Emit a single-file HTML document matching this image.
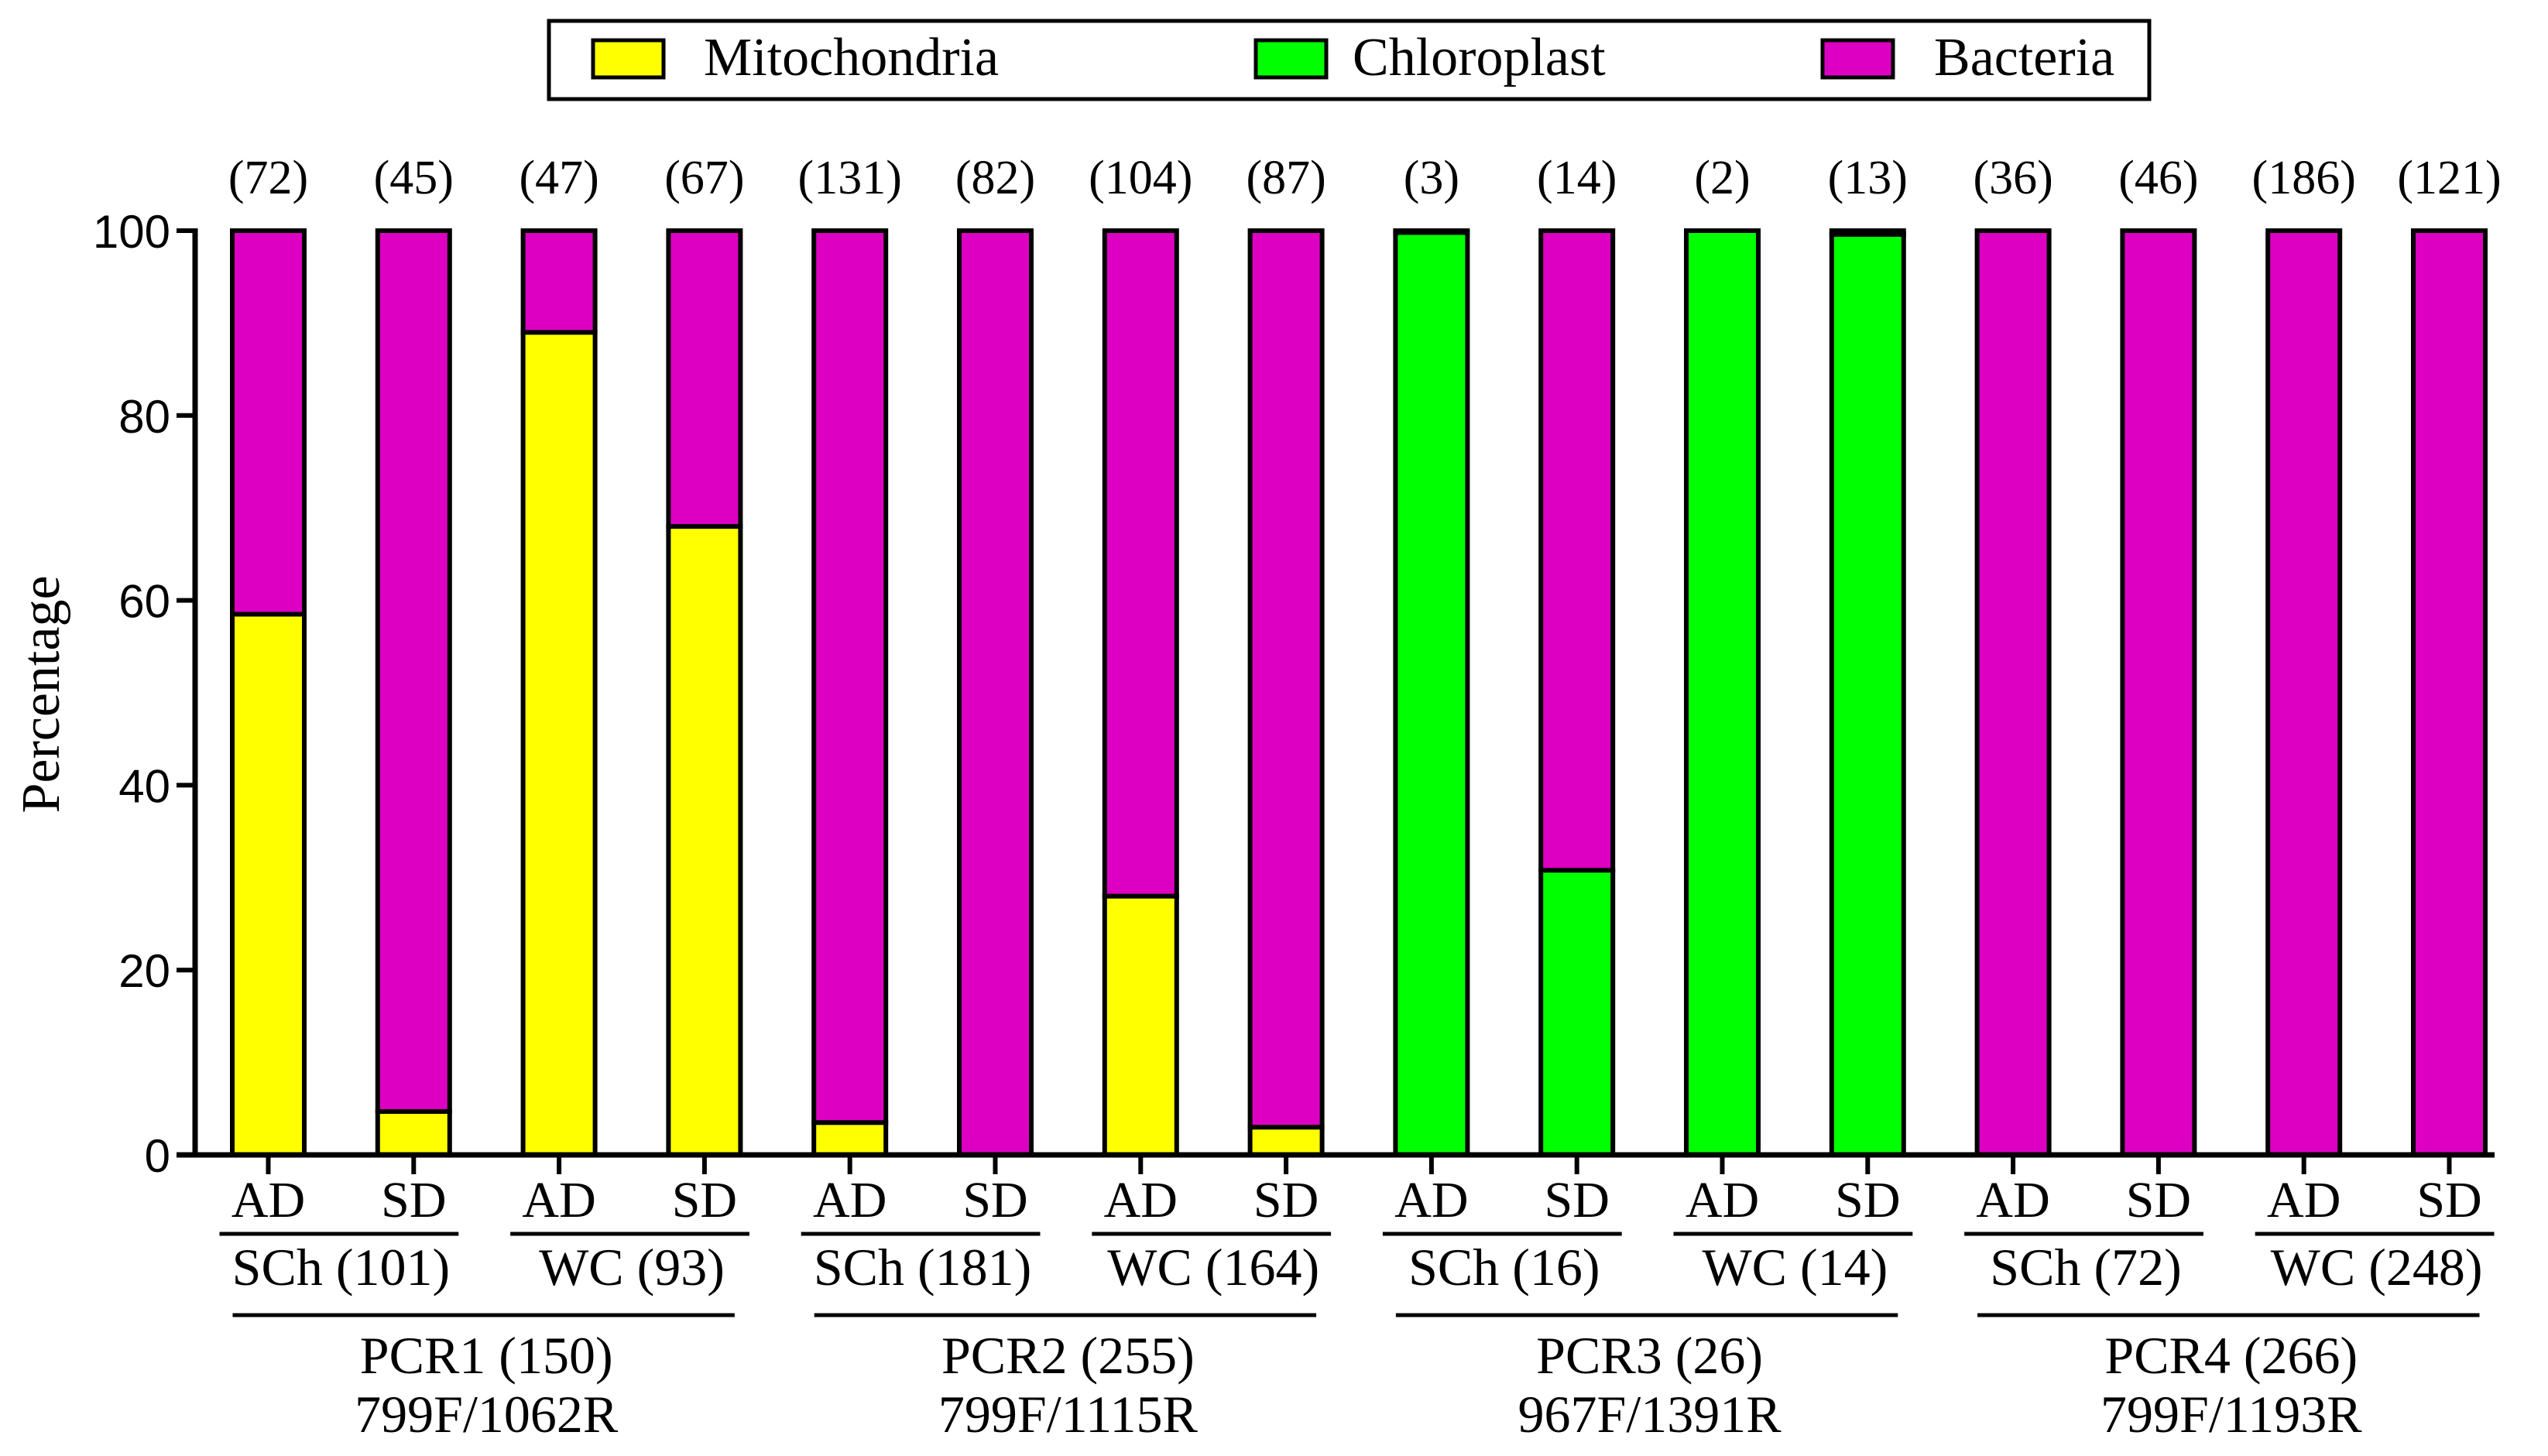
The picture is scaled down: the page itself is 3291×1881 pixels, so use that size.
<!DOCTYPE html>
<html><head><meta charset="utf-8"><style>
html,body{margin:0;padding:0;background:#fff;}
svg{display:block;}
.serif{font-family:"Liberation Serif",serif;}
.sans{font-family:"Liberation Sans",sans-serif;}
</style></head><body>
<svg id="chart" width="3291" height="1881" viewBox="0 0 3291 1881" xmlns="http://www.w3.org/2000/svg">
<g id="legend">
<rect x="709" y="27" width="2067" height="101" fill="#fff" stroke="#000" stroke-width="5"/>
<g><rect x="766" y="52" width="91" height="48" fill="#ffff00" stroke="#000" stroke-width="5"/><text class="serif" x="909" y="97" font-size="70">Mitochondria</text></g>
<g><rect x="1622" y="52" width="91" height="48" fill="#00ff00" stroke="#000" stroke-width="5"/><text class="serif" x="1747" y="97" font-size="70">Chloroplast</text></g>
<g><rect x="2354" y="52" width="91" height="48" fill="#dd00c2" stroke="#000" stroke-width="5"/><text class="serif" x="2498" y="97" font-size="70">Bacteria</text></g>
</g>
<g id="plot"></g>
<text class="serif" transform="translate(76,897) rotate(-90)" text-anchor="middle" font-size="70">Percentage</text>
</svg>
<script>
const samples = ["AD","SD","AD","SD","AD","SD","AD","SD","AD","SD","AD","SD","AD","SD","AD","SD"];
const counts = ["(72)","(45)","(47)","(67)","(131)","(82)","(104)","(87)","(3)","(14)","(2)","(13)","(36)","(46)","(186)","(121)"];
const mito = [58.5,4.7,89,68,3.5,0,28,3,0,0,0,0,0,0,0,0];
const chloro = [0,0,0,0,0,0,0,0,99.8,30.8,100,99.6,0,0,0,0];
const bacteria = [41.5,95.3,11,32,96.5,100,72,97,0.2,69.2,0,0.4,100,100,100,100];
const subgroups = ["SCh (101)","WC (93)","SCh (181)","WC (164)","SCh (16)","WC (14)","SCh (72)","WC (248)"];
const groups = ["PCR1 (150)","PCR2 (255)","PCR3 (26)","PCR4 (266)"];
const primers = ["799F/1062R","799F/1115R","967F/1391R","799F/1193R"];
const yTicks = [0,20,40,60,80,100];

const NS="http://www.w3.org/2000/svg";
const g=document.getElementById('plot');
const X0=346.5, DX=187.8, BW=93, Y0=1492, Y100=298;
const xs=i=>X0+i*DX;
const ys=v=>Y0-(v/100)*(Y0-Y100);
function mk(tag,attrs,parent){const e=document.createElementNS(NS,tag);for(const k in attrs)e.setAttribute(k,attrs[k]);(parent||g).appendChild(e);return e;}

samples.forEach((s,i)=>{
  const bg=mk('g',{});
  
  
  let base=0;
  const segs=[[mito[i],'#ffff00','mitochondria'],[chloro[i],'#00ff00','chloroplast'],[bacteria[i],'#dd00c2','bacteria']];
  segs.forEach(([v,c,n])=>{
    if(v<=0)return;
    const r=mk('rect',{x:xs(i)-BW/2,y:ys(base+v),width:BW,height:ys(base)-ys(base+v),fill:c,stroke:'#000','stroke-width':6},bg);
    
    
    base+=v;
  });
  const t=mk('text',{x:xs(i),y:250,'text-anchor':'middle','font-size':62,class:'serif'});
  t.textContent=counts[i];
  
  
  const xl=mk('text',{x:xs(i),y:1572,'text-anchor':'middle','font-size':66,class:'serif'});
  xl.textContent=s;
  
  
  const tk=mk('line',{x1:xs(i),x2:xs(i),y1:Y0,y2:1517,stroke:'#000','stroke-width':6});
  
  
});
const ya=mk('line',{x1:252,x2:252,y1:Y100-3,y2:Y0+3,stroke:'#000','stroke-width':7});


const xa=mk('line',{x1:228,x2:3222,y1:Y0,y2:Y0,stroke:'#000','stroke-width':7});


yTicks.forEach(v=>{
  const l=mk('line',{x1:228,x2:252,y1:ys(v),y2:ys(v),stroke:'#000','stroke-width':6});
  
  
  const t=mk('text',{x:220,y:ys(v)+22,'text-anchor':'end','font-size':60,class:'sans'});
  t.textContent=v;
  
  
});
subgroups.forEach((s,k)=>{
  const a=xs(2*k), b=xs(2*k+1);
  const l=mk('line',{x1:a-63,x2:b+58,y1:1594,y2:1594,stroke:'#000','stroke-width':5});
  
  
  const t=mk('text',{x:(a+b)/2,y:1660,'text-anchor':'middle','font-size':68,class:'serif'});
  t.textContent=s;
  
  
});
groups.forEach((s,k)=>{
  const a=xs(4*k), b=xs(4*k+3);
  const l=mk('line',{x1:a-46,x2:b+39,y1:1699,y2:1699,stroke:'#000','stroke-width':5});
  
  
  const t=mk('text',{x:(a+b)/2,y:1774,'text-anchor':'middle','font-size':68,class:'serif'});
  t.textContent=s;
  
  
  const p=mk('text',{x:(a+b)/2,y:1850,'text-anchor':'middle','font-size':68,class:'serif'});
  p.textContent=primers[k];
  
  
});
</script>
</body></html>
